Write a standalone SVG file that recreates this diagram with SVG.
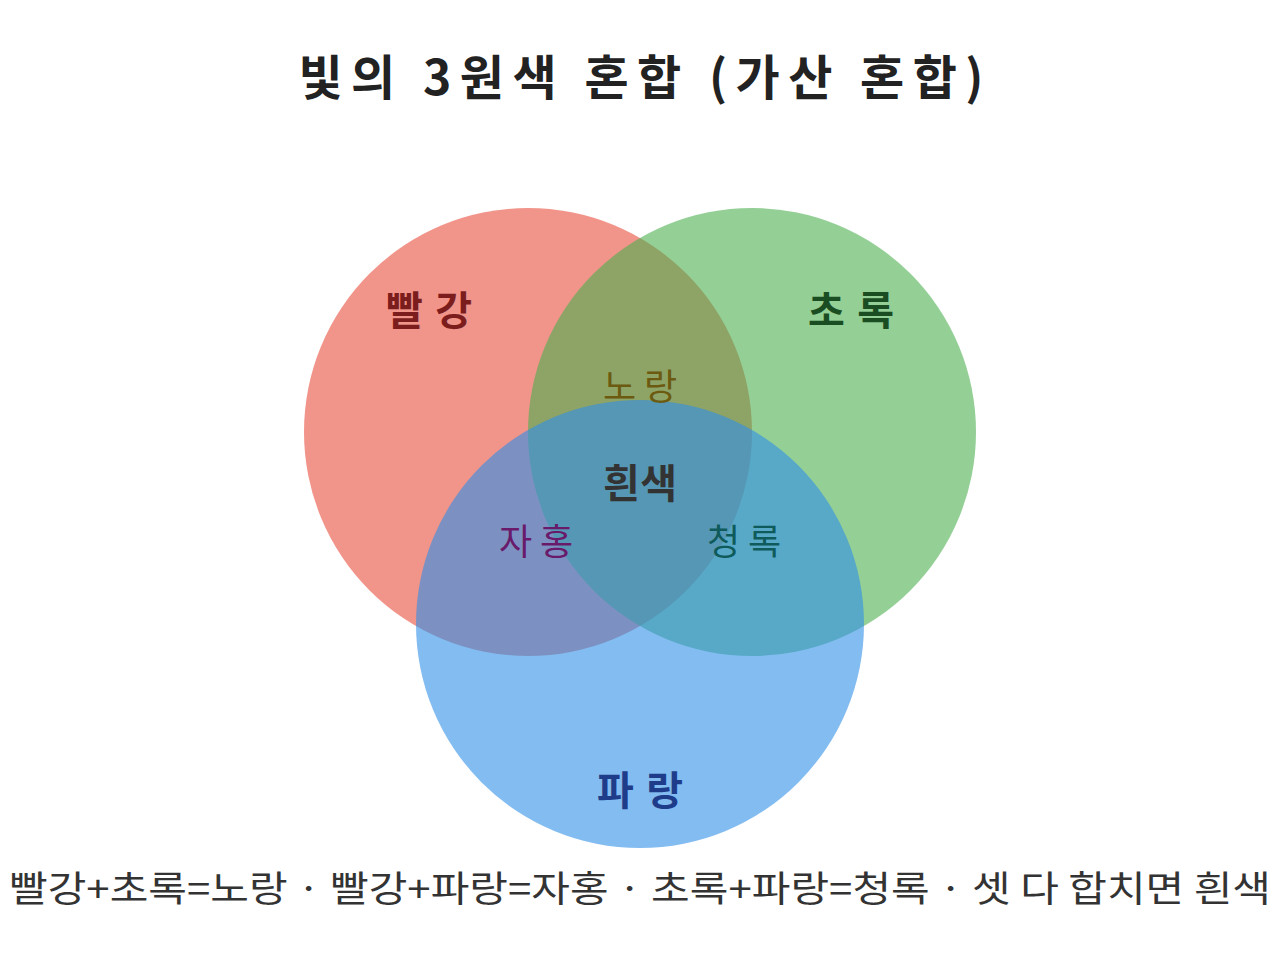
<svg xmlns="http://www.w3.org/2000/svg" width="1280" height="960" viewBox="0 0 1280 960">
<style>
text{font-family:"Noto Sans CJK KR","Noto Sans",sans-serif;text-anchor:middle}
.t{font-size:48px;font-weight:bold;fill:#222}
.m{font-size:40px;font-weight:bold}
.o{font-size:36px}
.f{font-size:36px;fill:#333}
</style>
<rect width="1280" height="960" fill="#fff"/>
<g id="red"><circle cx="528" cy="432" r="224" fill="#e74c3c" fill-opacity="0.6"/><text class="m" x="429" y="325" fill="#7b1d1d" textLength="86">빨강</text></g>
<g id="green"><circle cx="752" cy="432" r="224" fill="#4caf50" fill-opacity="0.6"/><text class="m" x="851" y="325" fill="#1b4d22" textLength="86">초록</text></g>
<g id="blue"><circle cx="640" cy="624" r="224" fill="#2e90e8" fill-opacity="0.6"/><text class="m" x="640" y="805" fill="#1f3c8a" textLength="86">파랑</text></g>
<g id="labels">
<text class="o" x="640" y="400" fill="#6b5a10" textLength="74">노랑</text>
<text class="o" x="536" y="555" fill="#6a1a6a" textLength="74">자홍</text>
<text class="o" x="744" y="555" fill="#0f5a5a" textLength="74">청록</text>
<text class="m" x="640" y="498" fill="#333" textLength="74">흰색</text>
</g>
<g id="connectors"/>
<text class="t" x="641" y="95" textLength="685">빛의 3원색 혼합 (가산 혼합)</text>
<text class="f" x="640" y="902" textLength="1262" lengthAdjust="spacingAndGlyphs">빨강+초록=노랑 · 빨강+파랑=자홍 · 초록+파랑=청록 · 셋 다 합치면 흰색</text>
</svg>
